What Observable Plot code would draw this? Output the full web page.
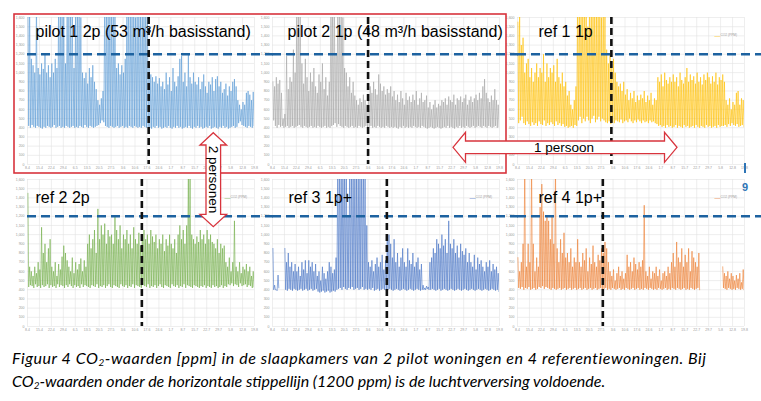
<!DOCTYPE html>
<html><head><meta charset="utf-8">
<script src="https://cdn.jsdelivr.net/npm/d3@7"></script>
<script src="https://cdn.jsdelivr.net/npm/@observablehq/plot@0.6"></script>
<style>
body{margin:0;background:#fff;}
#wrap{position:relative;width:761px;height:340px;}
#wrap svg{position:absolute;left:0;top:0;}
#cap{font-family:Lato,"Open Sans",sans-serif;font-style:italic;font-size:16px;line-height:23px;margin:6px 0 0 12px;color:#000;white-space:nowrap;}
#cap sub{font-size:0.62em;vertical-align:-0.25em;line-height:0;}
#cap .l1{letter-spacing:0.55px;}
</style></head><body>
<div id="wrap"></div>
<div id="cap"><span class="l1">Figuur 4 CO<sub>2</sub>-waarden [ppm] in de slaapkamers van 2 pilot woningen en 4 referentiewoningen. Bij</span><br>CO<sub>2</sub>-waarden onder de horizontale stippellijn (1200 ppm) is de luchtverversing voldoende.</div>
<script>
// ---------- data ----------
const panelTitles = ["pilot 1 2p (53 m³/h basisstand)", "pilot 2 1p (48 m³/h basisstand)", "ref 1 1p", "ref 2 2p", "ref 3 1p+", "ref 4 1p+"];
const panelColors = ["#5b9bd5", "#a5a5a5", "#ffc000", "#70ad47", "#4472c4", "#ed7d31"];
const changeDates = ["2019-06-18", "2019-06-03", "2019-06-02", "2019-06-14", "2019-06-14", "2019-05-28"];
const limitPpm = 1200;
const startDate = "2019-04-08";
const endDate = "2019-08-19";
const tickDates = ["2019-04-08","2019-04-15","2019-04-22","2019-04-29","2019-05-06","2019-05-13","2019-05-20","2019-05-27","2019-06-03","2019-06-10","2019-06-17","2019-06-24","2019-07-01","2019-07-08","2019-07-15","2019-07-22","2019-07-29","2019-08-05","2019-08-12","2019-08-19"];
const tickLabels = ["8.4","15.4","22.4","29.4","6.5","13.5","20.5","27.5","3.6","10.6","17.6","24.6","1.7","8.7","15.7","22.7","29.7","5.8","12.8","19.8"];
const yTicks = [0,100,200,300,400,500,600,700,800,900,1000,1100,1200,1300,1400,1500,1600];
const legendLabel = "CO2 (PPM)";

// daily night peaks and day troughs [ppm], 8.4 .. 18.8
const peaks1 = [1800,1800,1150,1080,
 1000,1800,1050,980,1100,1040,1200,1000,1080,950,1100,1000,1150,1050,
 1800,1800,1650,1800,1100,1800,1800,1700,1800,
 1050,
 1800,1750,1800,1600,
 1000,940,1000,880,1050,950,1080,900,820,700,650,720,800,
 1800,1800,1700,1800,1800,1650,1800,
 1050,1100,980,1080,1000,1150,
 1800,1800,1750,1800,1800,1600,1800,1800,1700,1800,1800,1750,1800,
 1100,
 980,950,900,960,880,940,850,900,
 820,1000,870,950,800,1050,900,850,960,1150,
 1180,900,1000,850,1200,950,880,1000,900,870,
 950,820,900,980,850,780,900,870,950,800,
 930,960,850,900,780,820,880,750,850,800,
 900,930,850,700,650,600,680,
 650,780,800,760,700,790];
const troughs1 = [420,400,430,410,400,420,410,400,390,410,
 400,420,410,400,410,430,400,410,420,400,
 410,400,420,410,400,410,420,400,410,400,
 420,410,400,430,410,400,420,410,400,410,
 420,430,450,480,460,420,410,400,420,410,
 400,410,420,400,410,420,400,410,400,420,
 410,400,420,410,400,410,400,420,410,400,
 410,400,390,410,400,420,400,410,390,400,
 410,400,420,400,390,410,400,420,400,410,
 390,400,410,400,420,400,390,410,400,420,
 400,410,390,400,410,400,420,390,400,410,
 400,390,410,400,420,400,410,390,400,410,
 420,400,410,450,470,430,420,410,400,420,
 410,400,420];

const peaks2 = [900,850,950,880,920,780,
 500,550,1180,
 820,950,900,1250,1000,
 1800,1700,1800,1100,
 880,1150,950,800,1000,900,1050,
 850,780,980,900,1100,820,950,750,900,
 1800,1800,1800,1200,1800,1800,1800,1600,1050,
 1000,850,950,780,900,750,
 700,650,720,680,760,700,650,
 720,850,780,900,820,760,980,880,
 800,850,760,820,780,850,740,800,
 700,760,680,800,720,650,780,700,740,
 680,760,700,800,650,720,780,680,700,750,
 620,680,600,650,700,620,660,640,700,
 680,720,650,740,700,680,760,650,720,700,
 740,680,720,760,650,700,740,680,720,760,
 700,780,720,850,930,780,720,
 680,750,700,820,700,650];
const troughs2 = [480,420,400,430,410,420,400,410,420,400,
 410,420,400,410,420,430,410,400,420,410,
 400,410,420,400,410,400,420,410,400,410,
 420,400,410,400,420,430,450,410,440,420,
 410,400,420,410,400,410,420,400,410,400,
 420,410,400,410,420,400,410,420,400,410,
 400,420,410,400,410,400,420,410,400,410,
 400,410,400,390,410,400,420,400,410,400,
 410,400,420,410,400,410,400,420,410,400,
 390,400,410,400,390,400,410,400,390,400,
 410,400,420,400,410,400,390,410,400,420,
 400,410,400,420,410,400,410,420,400,410,
 420,410,400,420,410,400,420,410,400,410,
 420,400,410];

const peaks3 = [1550,1650,1300,
 1380,1000,1100,
 1150,950,1050,900,1000,1100,950,
 1050,1000,1200,900,1100,950,1050,
 1000,1080,900,1150,950,880,1000,
 850,900,750,800,650,600,700,850,
 1800,1800,1700,1800,1800,1800,1500,1800,1800,1800,1800,1700,1800,1800,1600,1800,1700,
 1250,1100,1200,1050,1150,1000,
 900,850,880,800,900,760,820,
 700,780,720,800,680,750,700,760,
 720,800,680,750,700,780,650,720,700,
 950,900,980,850,1000,920,880,950,900,980,
 900,950,850,1000,920,880,950,1050,900,980,
 920,960,880,1000,900,950,870,980,920,1000,
 950,880,960,900,1000,870,950,920,980,900,
 700,650,720,600,680,650,
 780,800,650,720,700];
const troughs3 = [450,480,520,450,430,470,440,420,460,430,
 450,420,470,440,430,480,420,450,430,460,
 440,420,470,430,450,420,440,410,420,400,
 410,420,400,430,420,480,520,450,500,470,
 520,480,450,500,530,460,490,520,470,500,
 480,460,450,470,440,460,450,480,470,460,
 490,450,470,480,460,500,470,450,480,460,
 490,470,450,480,460,470,450,480,460,470,
 450,440,420,430,410,420,400,430,410,420,
 400,410,430,400,420,410,400,430,410,420,
 400,410,420,400,430,410,400,420,410,400,
 430,410,420,400,410,420,400,430,410,420,
 420,430,410,440,420,450,430,420,440,410,
 420,430,410];

const peaks4 = [1450,650,
 600,550,650,580,700,620,
 1080,800,900,700,850,950,
 650,600,700,550,680,620,
 760,880,800,720,
 650,600,750,580,700,620,680,740,600,720,650,
 900,1000,850,950,1050,800,
 1280,950,1100,1000,1120,900,1050,980,
 1000,900,1200,1050,950,1100,850,1000,
 950,1050,900,1000,850,1080,950,900,1020,880,950,
 1050,950,1000,900,1050,980,920,1000,
 850,950,900,1000,820,950,880,1000,900,850,950,800,
 1000,1100,950,1050,900,1100,
 1650,1650,
 1000,950,900,980,920,
 1050,950,1000,900,1050,950,1000,920,
 900,850,950,800,900,850,880,
 700,650,750,600,700,
 1150,
 650,600,700,580,650,620,680,600,650,550,600];
const troughs4 = [430,450,440,420,460,430,440,420,450,430,
 440,460,420,450,430,440,420,460,430,450,
 440,420,450,430,460,440,420,450,430,440,
 420,460,430,450,440,430,420,450,440,430,
 460,420,440,430,450,420,440,460,430,420,
 450,440,430,420,460,440,430,450,420,440,
 430,460,420,450,440,430,420,450,440,430,
 460,420,440,430,450,420,440,460,430,420,
 450,440,430,420,460,440,430,450,420,440,
 430,460,420,450,440,430,420,450,440,430,
 420,440,430,450,420,440,430,420,450,430,
 440,420,430,450,420,440,430,460,450,470,
 440,460,450,430,470,440,450,460,430,450,
 440,420,430];

const peaks5 = [850,450,400,560,
 null,null,null,
 850,700,800,650,700,600,680,
 600,650,550,700,620,720,580,
 720,650,700,600,680,
 550,600,500,650,580,520,600,700,650,580,620,750,
 1800,1800,1750,1800,1800,1800,1200,1800,1800,1800,1800,1700,1800,1800,1800,1800,1650,1100,
 700,650,720,600,680,750,650,700,780,620,720,980,
 1000,900,750,
 950,700,800,650,750,850,700,650,850,720,680,800,650,700,750,620,680,
 450,420,440,430,
 700,750,850,800,950,900,850,1000,880,950,800,1150,900,850,950,800,880,750,900,820,780,850,700,800,
 700,650,780,620,750,680,720,650,600,700,650,720,600,680,620,650,580];
const troughs5 = [400,400,390,420,null,null,null,400,390,410,
 400,390,410,400,390,400,410,390,400,410,
 390,400,410,390,400,410,380,370,380,390,
 370,380,390,370,380,390,380,400,410,420,
 400,430,410,400,420,410,430,400,410,420,
 400,410,430,400,410,400,410,400,420,390,
 400,410,390,400,410,400,390,400,410,400,
 390,400,410,400,390,400,410,400,390,400,
 410,400,390,400,410,400,390,400,400,400,
 410,400,400,410,400,390,400,410,390,400,
 410,400,390,400,410,400,390,400,410,400,
 390,400,410,400,390,400,410,400,390,400,
 410,400,390,400,410,400,390,400,410,400,
 390,400,380];

const peaks6 = [750,600,700,
 900,1800,
 650,900,700,
 1800,
 900,600,750,650,
 1300,1550,1250,1150,1200,
 1150,950,1200,900,
 1800,
 850,700,950,800,1020,
 750,800,700,850,650,750,700,950,
 700,650,800,720,850,600,750,680,880,700,650,780,720,850,800,
 920,850,700,
 600,550,620,500,580,650,550,600,520,580,
 780,650,700,600,750,680,620,700,650,720,
 1320,
 600,550,650,520,600,580,650,550,620,500,580,600,550,650,580,
 700,800,650,920,750,700,850,650,780,700,850,600,820,750,700,650,800,
 null,null,null,null,null,null,null,null,null,null,null,null,null,
 650,580,550,600,520,580,550,500,560,520,580,480,620];
const troughs6 = [420,410,430,400,420,410,430,400,410,420,
 400,410,430,420,440,410,430,420,410,400,
 420,410,400,410,420,400,410,420,400,410,
 420,400,410,420,400,410,420,400,410,420,
 400,410,420,400,410,420,400,410,420,400,
 410,420,400,410,400,420,410,400,410,420,
 400,410,400,420,410,400,410,420,400,410,
 420,400,410,400,420,410,400,420,410,400,
 410,400,420,410,400,410,420,400,410,400,
 420,410,400,420,410,400,410,420,400,410,
 400,420,410,400,410,420,400,null,null,null,
 null,null,null,null,null,null,null,null,null,null,
 420,410,400,420,410,400,410,400,420,410,
 400,410,400];

// ---------- build table ----------
const peaks = [peaks1, peaks2, peaks3, peaks4, peaks5, peaks6];
const troughs = [troughs1, troughs2, troughs3, troughs4, troughs5, troughs6];
const DAY = 864e5;
const t0 = Date.parse(startDate);
const rows = [];
peaks.forEach((pk, p) => pk.forEach((v, d) => {
  if (v == null) { rows.push({p, t: new Date(t0 + (d + 0.5) * DAY), v: NaN}); return; }
  rows.push({p, t: new Date(t0 + (d + 0.25) * DAY), v});
  rows.push({p, t: new Date(t0 + (d + 0.7) * DAY), v: troughs[p][d]});
}));
const panels = [0,1,2,3,4,5];
const col = p => p % 3, row = p => Math.floor(p / 3);

// layout constants
const titleDx = [8, 15, 21, 8, 16, 21];
const titleDy = [19, 19, 19, 23, 23, 23];
const extendDays = 11;

const marks = [
  Plot.gridY(yTicks, {stroke: "#e3e3e3", strokeOpacity: 1, strokeWidth: 0.6}),
  Plot.gridX(tickDates.map(d => new Date(d)), {stroke: "#e3e3e3", strokeOpacity: 1, strokeWidth: 0.6}),
  Plot.axisY({ticks: yTicks, tickSize: 0, tickPadding: 3, fontSize: 3.5, fill: "#9a9a9a", label: null, facetAnchor: null}),
  Plot.axisX({ticks: tickDates.map(d => new Date(d)), tickFormat: (d, i) => tickLabels[i], tickSize: 0, tickPadding: 2, fontSize: 3.5, fill: "#9a9a9a", label: null, facetAnchor: null}),
  Plot.lineY(rows, {x: "t", y: "v", z: "p", stroke: "p", fx: d => col(d.p), fy: d => row(d.p), strokeWidth: 0.6, clip: true}),
  Plot.ruleY(panels, {fx: col, fy: row, y: () => limitPpm, x1: () => new Date(startDate), x2: () => new Date(Date.parse(endDate) + extendDays * DAY), stroke: "#1d62a0", strokeWidth: 2.6, strokeDasharray: "9,5"}),
  Plot.ruleX(panels, {fx: col, fy: row, x: p => new Date(changeDates[p]), stroke: "#111", strokeWidth: 2.6, strokeDasharray: "7,4"})
];
panels.forEach(p => {
  marks.push(Plot.text([p], {fx: col, fy: row, text: d => panelTitles[d], frameAnchor: "top-left", dx: titleDx[p], dy: titleDy[p], textAnchor: "start", lineAnchor: "bottom", fontSize: 16, fill: "#000"}));
});
const legendPanels = [2,3,4,5];
marks.push(Plot.text(legendPanels, {fx: col, fy: row, text: () => "—", frameAnchor: "top-right", dx: -30, dy: 16, textAnchor: "start", fontSize: 6, fill: p => panelColors[p]}));
marks.push(Plot.text(legendPanels, {fx: col, fy: row, text: () => legendLabel, frameAnchor: "top-right", dx: -24, dy: 16, textAnchor: "start", fontSize: 3.2, fill: "#9a9a9a"}));

const chart = Plot.plot({
  width: 761, height: 340,
  marginLeft: 27, marginRight: 16, marginTop: 17, marginBottom: 13,
  style: {fontFamily: "'Liberation Sans', Arial, sans-serif", background: "white", overflow: "visible"},
  fx: {domain: [0,1,2], paddingInner: 0.072, paddingOuter: 0, axis: null},
  fy: {domain: [0,1], paddingInner: 0.0923, paddingOuter: 0, axis: null},
  x: {type: "utc", domain: [new Date(startDate), new Date(endDate)]},
  y: {domain: [0, 1600]},
  color: {type: "ordinal", domain: panels, range: panelColors},
  marks
});
document.getElementById("wrap").appendChild(chart);

// ---------- annotations overlay ----------
const svg = d3.select("#wrap").append("svg").attr("width", 761).attr("height", 340)
  .style("font-family", "'Liberation Sans', Arial, sans-serif").style("overflow", "visible");
const red = "#d8343d";
svg.append("rect").attr("x", 14).attr("y", 14).attr("width", 492).attr("height", 159)
  .attr("fill", "none").attr("stroke", red).attr("stroke-width", 1.6);
function hArrow(x0, x1, cy, hh, sh, hl) {
  return `M${x0},${cy}L${x0+hl},${cy-hh}L${x0+hl},${cy-sh}L${x1-hl},${cy-sh}L${x1-hl},${cy-hh}L${x1},${cy}L${x1-hl},${cy+hh}L${x1-hl},${cy+sh}L${x0+hl},${cy+sh}L${x0+hl},${cy+hh}Z`;
}
function vArrow(y0, y1, cx, hw, sw, hl) {
  return `M${cx},${y0}L${cx+hw},${y0+hl}L${cx+sw},${y0+hl}L${cx+sw},${y1-hl}L${cx+hw},${y1-hl}L${cx},${y1}L${cx-hw},${y1-hl}L${cx-sw},${y1-hl}L${cx-sw},${y0+hl}L${cx-hw},${y0+hl}Z`;
}
svg.append("path").attr("d", hArrow(453, 677, 147.3, 15, 6.3, 12.5))
  .attr("fill", "#fff").attr("stroke", red).attr("stroke-width", 1.3);
svg.append("text").attr("x", 564).attr("y", 147.3).attr("dy", "0.35em").attr("text-anchor", "middle")
  .attr("font-size", 13.5).text("1 persoon");
svg.append("path").attr("d", vArrow(132.7, 226.7, 213.3, 13.3, 7.3, 12.3))
  .attr("fill", "#fff").attr("stroke", red).attr("stroke-width", 1.3);
svg.append("text").attr("transform", "translate(213.3,179.5) rotate(90)").attr("dy", "0.35em").attr("text-anchor", "middle")
  .attr("font-size", 13.5).text("2 personen");
// cropped fragments at the right edge of the original figure
svg.append("rect").attr("x", 744).attr("y", 163).attr("width", 2).attr("height", 10).attr("fill", "#2e75b6");
svg.append("text").attr("x", 742).attr("y", 191).attr("font-size", 11).attr("font-weight", "bold").attr("fill", "#2e75b6").text("9");
</script></body></html>
